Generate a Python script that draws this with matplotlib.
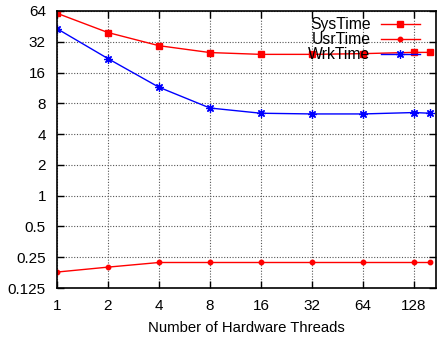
import matplotlib
matplotlib.use("Agg")
import matplotlib.pyplot as plt
from matplotlib.ticker import FixedLocator, NullLocator

plt.rcParams['font.family'] = ['Liberation Sans', 'DejaVu Sans']

threads = [1, 2, 4, 8, 16, 32, 64, 128, 160]
sys_time = [60.8, 39.4, 29.3, 25.1, 24.1, 24.1, 24.5, 25.2, 25.2]
usr_time = [0.179, 0.200, 0.222, 0.222, 0.222, 0.222, 0.222, 0.222, 0.222]
wrk_time = [43.0, 21.9, 11.5, 7.2, 6.4, 6.3, 6.3, 6.5, 6.4]

xticks = [1, 2, 4, 8, 16, 32, 64, 128]
xticklabels = ["1", "2", "4", "8", "16", "32", "64", "128"]
yticks = [0.125, 0.25, 0.5, 1, 2, 4, 8, 16, 32, 64]
yticklabels = ["0.125", "0.25", "0.5", "1", "2", "4", "8", "16", "32", "64"]

fig = plt.figure(figsize=(4.37, 3.39), dpi=100)
ax = fig.add_axes([57/437, 1-288/339, (436-57)/437, (288-11)/339])

ax.plot(threads, sys_time, color='#ff0000', lw=1.0, marker='s', ms=4.5, label='SysTime')
ax.plot(threads, usr_time, color='#ff0000', lw=1.0, marker='o', ms=3.2, label='UsrTime')
ax.plot(threads, wrk_time, color='#0000ff', lw=1.0, marker=(8, 2, 0), ms=6, mew=0.9, label='WrkTime')

ax.set_xscale('log', base=2)
ax.set_yscale('log', base=2)
ax.set_xlim(1, 173)
ax.set_ylim(0.125, 64)
ax.xaxis.set_major_locator(FixedLocator(xticks))
ax.set_xticklabels(xticklabels)
ax.xaxis.set_minor_locator(NullLocator())
ax.yaxis.set_major_locator(FixedLocator(yticks))
ax.set_yticklabels(yticklabels)
ax.yaxis.set_minor_locator(NullLocator())

ax.grid(True, which='major', color='#555555', linestyle=(0, (1, 1.5)), lw=0.8)
ax.tick_params(direction='in', length=5, width=1, top=True, right=True, labelsize=11, pad=8, colors='black')
for s in ax.spines.values():
    s.set_linewidth(1.2)

ax.set_xlabel('Number of Hardware Threads', fontsize=10.7, labelpad=6)

ax.legend(loc='upper right', frameon=False, markerfirst=False, fontsize=11.3,
          handlelength=2.5, borderaxespad=0, borderpad=0, labelspacing=0.0, handletextpad=0.65,
          bbox_to_anchor=(420/437, 1-17/339), bbox_transform=fig.transFigure)

fig.savefig('out.png', dpi=100)
